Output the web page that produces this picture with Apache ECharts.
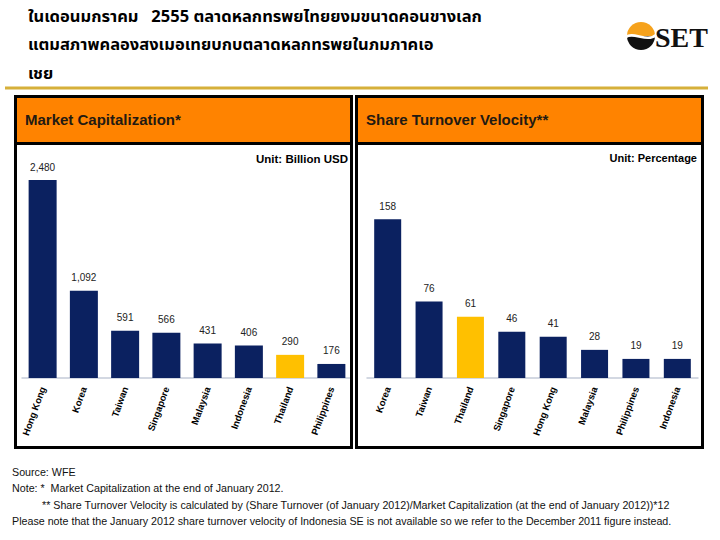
<!DOCTYPE html>
<html>
<head>
<meta charset="utf-8">
<script src="https://cdn.jsdelivr.net/npm/echarts@6/dist/echarts.min.js"></script>
<style>
html,body{margin:0;padding:0;background:#fff;}
#chart{width:720px;height:540px;}
</style>
</head>
<body>
<div id="chart"></div>
<script>
// ---- Data ----
const capCategories = ['Hong Kong','Korea','Taiwan','Singapore','Malaysia','Indonesia','Thailand','Philippines'];
const capValues = [2480, 1092, 591, 566, 431, 406, 290, 176];
const velCategories = ['Korea','Taiwan','Thailand','Singapore','Hong Kong','Malaysia','Philippines','Indonesia'];
const velValues = [158, 76, 61, 46, 41, 28, 19, 19];
const highlight = 'Thailand';

const titleLines = [
  'ในเดอนมกราคม   2555 ตลาดหลกทรพยไทยยงมขนาดคอนขางเลก',
  'แตมสภาพคลองสงเมอเทยบกบตลาดหลกทรพยในภมภาคเอ',
  'เชย'
];
const footLines = [
  'Source: WFE',
  'Note: *  Market Capitalization at the end of January 2012.',
  '** Share Turnover Velocity is calculated by (Share Turnover (of January 2012)/Market Capitalization (at the end of January 2012))*12',
  'Please note that the January 2012 share turnover velocity of Indonesia SE is not available so we refer to the December 2011 figure instead.'
];

// ---- Styles ----
const NAVY = '#0b2160';
const YELLOW = '#ffc000';
const ORANGE = '#ff8300';
const FONT = '"Liberation Sans", Arial, sans-serif';
const THAI = '"Noto Sans Thai", "Noto Sans Thai Looped", Tahoma, "Noto Sans", sans-serif';

function barData(cats, vals){
  return vals.map((v,i)=>({value:v, itemStyle:{color: cats[i]===highlight ? YELLOW : NAVY}}));
}
function fmt(p){ return Number(p.value).toLocaleString('en-US'); }

const chart = echarts.init(document.getElementById('chart'), null, {renderer:'svg'});

const graphics = [];
// gold rule under title
graphics.push({type:'line', z:1, shape:{x1:5,y1:88,x2:708,y2:88}, style:{stroke:'#d6b03a', lineWidth:3}});
// title
titleLines.forEach((t,i)=>{
  graphics.push({type:'text', z:5, x:28, y:16+i*28.5, style:{text:t, font:'bold 16.5px '+THAI, fill:'#000', textVerticalAlign:'middle'}});
});
// panels
[[15.5,336],[356.5,346]].forEach(([x,w])=>{
  graphics.push({type:'rect', z:0, shape:{x:x,y:96.5,width:w,height:46.5}, style:{fill:ORANGE}});
  graphics.push({type:'line', z:1, shape:{x1:x,y1:143.5,x2:x+w,y2:143.5}, style:{stroke:'#000', lineWidth:3}});
  graphics.push({type:'rect', z:1, shape:{x:x,y:96.5,width:w,height:351}, style:{fill:'none', stroke:'#000', lineWidth:3}});
});
graphics.push({type:'text', z:5, x:25, y:119, style:{text:'Market Capitalization*', font:'bold 15px '+FONT, fill:'#231a12', textVerticalAlign:'middle'}});
graphics.push({type:'text', z:5, x:366, y:119, style:{text:'Share Turnover Velocity**', font:'bold 15px '+FONT, fill:'#231a12', textVerticalAlign:'middle'}});
graphics.push({type:'text', z:5, x:348, y:159, style:{text:'Unit: Billion USD', font:'bold 11.5px '+FONT, fill:'#000', textAlign:'right', textVerticalAlign:'middle'}});
graphics.push({type:'text', z:5, x:697, y:158, style:{text:'Unit: Percentage', font:'bold 11px '+FONT, fill:'#000', textAlign:'right', textVerticalAlign:'middle'}});
// footnotes
const footX = [12,12,42,12];
footLines.forEach((t,i)=>{
  graphics.push({type:'text', z:5, x:footX[i], y:472+i*16.3, style:{text:t, font:'10.7px '+FONT, fill:'#111', textVerticalAlign:'middle'}});
});
// logo
graphics.push({type:'sector', z:5, shape:{cx:641,cy:36,r:14,startAngle:Math.PI,endAngle:2*Math.PI}, style:{fill:'#f6a21c'}});
graphics.push({type:'sector', z:5, shape:{cx:641,cy:36,r:14,startAngle:0,endAngle:Math.PI}, style:{fill:'#111'}});
graphics.push({type:'bezierCurve', z:6, shape:{x1:626,y1:37,cpx1:633,cpy1:31,cpx2:647,cpy2:43,x2:656,y2:35}, style:{stroke:'#fff', lineWidth:2.5, fill:'none'}});
graphics.push({type:'text', z:5, x:655, y:37, style:{text:'SET', font:'bold 28px "Liberation Serif", "DejaVu Serif", serif', fill:'#111', textVerticalAlign:'middle'}});

function xAxisCfg(idx, cats){
  return {
    type:'category', gridIndex:idx, data:cats,
    axisLine:{lineStyle:{color:'#c5ccd9', width:1.5}},
    axisTick:{show:false},
    axisLabel:{rotate:70, margin:9, fontSize:9.5, fontWeight:'bold', fontFamily:FONT, color:'#000', interval:0}
  };
}
function yAxisCfg(idx, max){
  return {type:'value', gridIndex:idx, min:0, max:max, show:false, splitLine:{show:false}};
}
const labelCfg = {show:true, position:'top', distance:8, fontSize:10, fontFamily:FONT, color:'#222', formatter:fmt};

chart.setOption({
  animation:false,
  backgroundColor:'#fff',
  grid:[
    {left:22, width:330, top:154.5, bottom:162},
    {left:367, width:331, top:177, bottom:162}
  ],
  xAxis:[xAxisCfg(0, capCategories), xAxisCfg(1, velCategories)],
  yAxis:[yAxisCfg(0, 2800), yAxisCfg(1, 200)],
  series:[
    {type:'bar', xAxisIndex:0, yAxisIndex:0, barWidth:28, data:barData(capCategories, capValues), label:labelCfg},
    {type:'bar', xAxisIndex:1, yAxisIndex:1, barWidth:27, data:barData(velCategories, velValues), label:labelCfg}
  ],
  graphic:graphics
});
</script>
</body>
</html>
